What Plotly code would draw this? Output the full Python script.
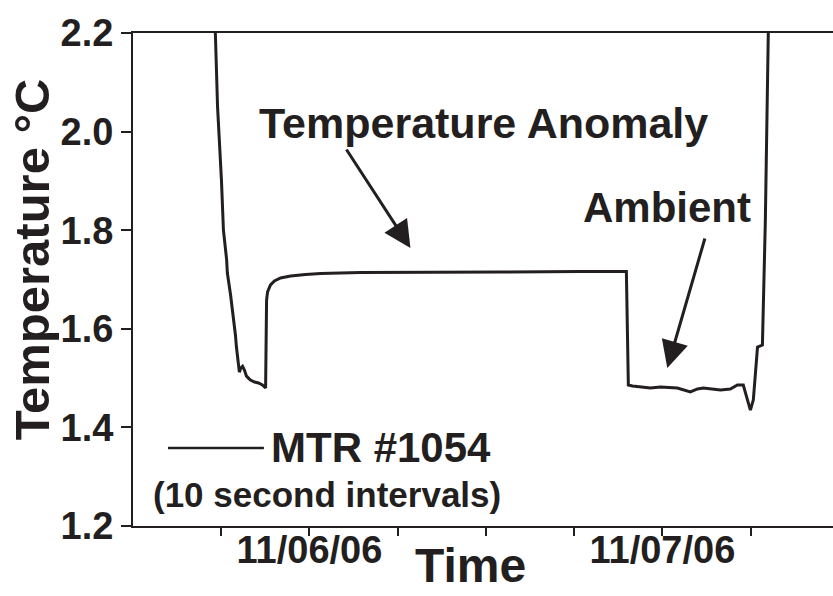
import plotly.graph_objects as go

# ---- data ----
times = [
    "2006-11-05 17:24", "2006-11-05 17:37", "2006-11-05 17:45", "2006-11-05 18:01",
    "2006-11-05 18:09", "2006-11-05 18:22", "2006-11-05 18:25", "2006-11-05 18:38",
    "2006-11-05 18:50", "2006-11-05 18:58", "2006-11-05 19:02", "2006-11-05 19:06",
    "2006-11-05 19:10", "2006-11-05 19:14", "2006-11-05 19:19", "2006-11-05 19:27",
    "2006-11-05 19:35", "2006-11-05 19:43", "2006-11-05 19:51", "2006-11-05 19:59",
    "2006-11-05 20:16", "2006-11-05 20:32", "2006-11-05 20:48", "2006-11-05 21:01",
    "2006-11-05 21:05", "2006-11-05 21:09", "2006-11-05 21:21", "2006-11-05 21:37",
    "2006-11-05 22:02", "2006-11-05 22:43", "2006-11-05 23:44", "2006-11-06 00:45",
    "2006-11-06 03:28", "2006-11-06 07:33", "2006-11-06 12:59", "2006-11-06 18:26",
    "2006-11-06 21:33", "2006-11-06 21:41", "2006-11-06 21:58", "2006-11-06 23:11",
    "2006-11-06 23:52", "2006-11-07 01:01", "2006-11-07 01:54", "2006-11-07 02:23",
    "2006-11-07 02:47", "2006-11-07 03:57", "2006-11-07 04:37", "2006-11-07 05:06",
    "2006-11-07 05:30", "2006-11-07 05:47", "2006-11-07 05:59", "2006-11-07 06:11",
    "2006-11-07 06:19", "2006-11-07 06:28", "2006-11-07 06:48", "2006-11-07 06:52",
    "2006-11-07 07:00", "2006-11-07 07:12", "2006-11-07 07:20",
]
temps = [
    2.40, 2.20, 2.05, 1.90,
    1.80, 1.74, 1.713, 1.669,
    1.624, 1.587, 1.563, 1.547,
    1.523, 1.512, 1.520, 1.524,
    1.516, 1.504, 1.500, 1.496,
    1.492, 1.490, 1.486, 1.480,
    1.658, 1.675, 1.689, 1.697,
    1.703, 1.707, 1.710, 1.712,
    1.714, 1.715, 1.715, 1.716,
    1.716, 1.486, 1.484, 1.480,
    1.482, 1.480, 1.472, 1.478,
    1.480, 1.476, 1.478, 1.486,
    1.486, 1.456, 1.435, 1.456,
    1.517, 1.563, 1.567, 1.658,
    1.82, 2.20, 2.39,
]

x_range = ["2006-11-05 12:00", "2006-11-07 11:36"]
y_range = [1.2, 2.2]
x_tick_vals = ["2006-11-05 18:00", "2006-11-06 00:00", "2006-11-06 06:00",
               "2006-11-06 12:00", "2006-11-06 18:00", "2006-11-07 00:00",
               "2006-11-07 06:00"]
x_tick_text = ["", "11/06/06", "", "", "", "11/07/06", ""]
y_tick_vals = [1.2, 1.4, 1.6, 1.8, 2.0, 2.2]
y_tick_text = ["1.2", "1.4", "1.6", "1.8", "2.0", "2.2"]

series_name = "MTR #1054"
series_note = "(10 second intervals)"
label_anomaly = "Temperature Anomaly"
label_ambient = "Ambient"
anomaly_target = ("2006-11-06 06:52", 1.764)
ambient_target = ("2006-11-07 00:20", 1.5205)

INK = "#231f20"
FONT = "Liberation Sans, Arial, sans-serif"

fig = go.Figure()
fig.add_trace(go.Scatter(x=times, y=temps, mode="lines",
                         line=dict(color=INK, width=3),
                         showlegend=False, hoverinfo="skip"))

fig.update_layout(
    width=833, height=596,
    margin=dict(l=133, r=0, t=33, b=70),
    paper_bgcolor="white", plot_bgcolor="white",
    showlegend=False,
    font=dict(family=FONT, color=INK),
)

fig.update_xaxes(
    type="date", range=x_range, automargin=False,
    tickmode="array", tickvals=x_tick_vals, ticktext=x_tick_text,
    ticks="outside", ticklen=8, tickwidth=1.5, tickcolor=INK,
    ticklabelstandoff=-19,
    showline=True, linecolor=INK, linewidth=2, mirror=True,
    showgrid=False, zeroline=False,
    tickfont=dict(family=FONT, size=38, color=INK, weight="bold"),
)
fig.update_yaxes(
    range=y_range, automargin=False,
    tickmode="array", tickvals=y_tick_vals, ticktext=y_tick_text,
    ticks="outside", ticklen=10, tickwidth=1.5, tickcolor=INK,
    ticklabelstandoff=0,
    showline=True, linecolor=INK, linewidth=2,
    showgrid=False, zeroline=False,
    tickfont=dict(family=FONT, size=38, color=INK, weight="bold"),
)

# axis titles as annotations
fig.add_annotation(text="Temperature °C", xref="paper", yref="paper",
                   x=-0.145, y=0.54, textangle=-90, showarrow=False,
                   xanchor="center", yanchor="middle",
                   font=dict(family=FONT, size=49, color=INK, weight="bold"))
fig.add_annotation(text="Time", xref="paper", yref="paper",
                   x=0.482, y=-0.08, showarrow=False,
                   xanchor="center", yanchor="middle",
                   font=dict(family=FONT, size=48, color=INK, weight="bold"))

# labels
fig.add_annotation(text=label_anomaly, xref="paper", yref="paper",
                   x=0.501, y=0.818, showarrow=False,
                   xanchor="center", yanchor="middle",
                   font=dict(family=FONT, size=43, color=INK, weight="bold"))
fig.add_annotation(text=label_ambient, xref="paper", yref="paper",
                   x=0.763, y=0.646, showarrow=False,
                   xanchor="center", yanchor="middle",
                   font=dict(family=FONT, size=42, color=INK, weight="bold"))

# arrows
fig.add_annotation(x=anomaly_target[0], y=anomaly_target[1], xref="x", yref="y",
                   text="", showarrow=True, ax=-65, ay=-100,
                   arrowhead=2, arrowsize=1.8, arrowwidth=3, arrowcolor=INK)
fig.add_annotation(x=ambient_target[0], y=ambient_target[1], xref="x", yref="y",
                   text="", showarrow=True, ax=38, ay=-131,
                   arrowhead=2, arrowsize=1.8, arrowwidth=3, arrowcolor=INK)

# legend-like key
fig.add_shape(type="line", xref="paper", yref="paper",
              x0=0.05, x1=0.187, y0=0.158, y1=0.158,
              line=dict(color=INK, width=2.5))
fig.add_annotation(text=series_name, xref="paper", yref="paper",
                   x=0.194, y=0.160, showarrow=False,
                   xanchor="left", yanchor="middle",
                   font=dict(family=FONT, size=42, color=INK, weight="bold"))
fig.add_annotation(text=series_note, xref="paper", yref="paper",
                   x=0.277, y=0.063, showarrow=False,
                   xanchor="center", yanchor="middle",
                   font=dict(family=FONT, size=35, color=INK, weight="bold"))

fig.write_html("out.html",
               config={"displayModeBar": False},
               post_script="document.body.style.margin='0';"
                           "document.body.style.overflow='hidden';")
